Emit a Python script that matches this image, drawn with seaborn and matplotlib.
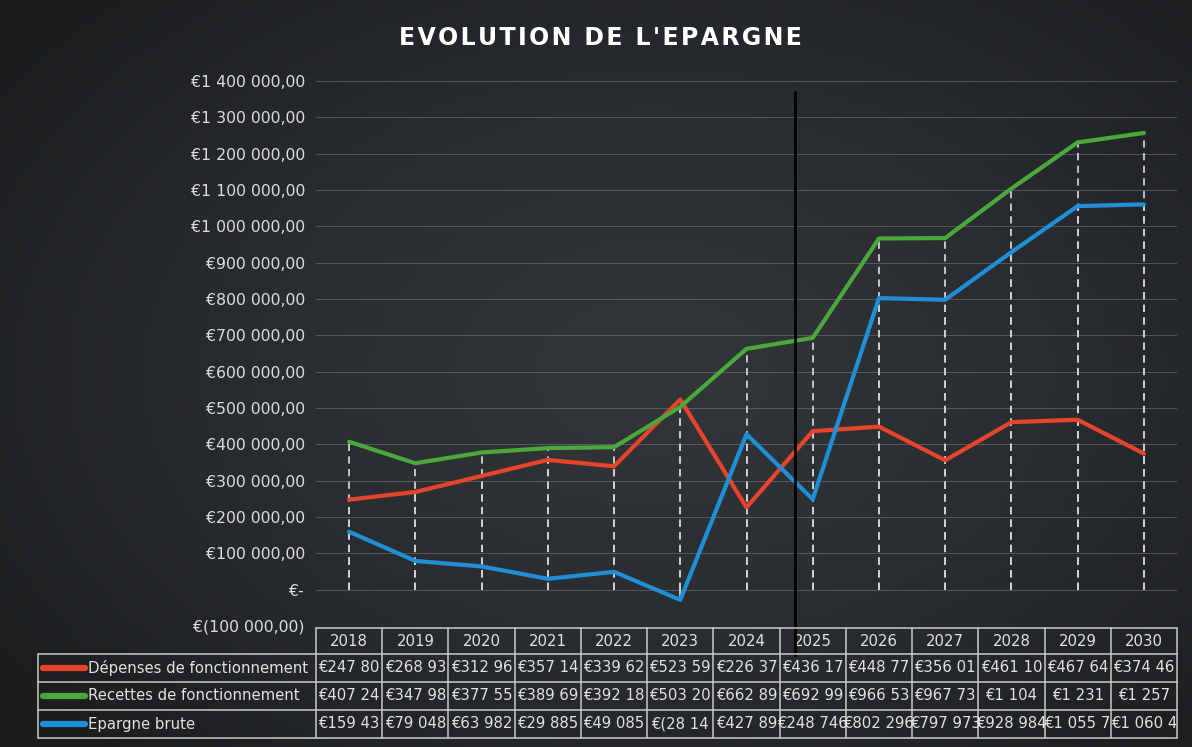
import numpy as np
import pandas as pd
import matplotlib.pyplot as plt
import seaborn as sns
import matplotlib.ticker as ticker
from matplotlib.transforms import blended_transform_factory
from matplotlib.lines import Line2D
from matplotlib.colors import LinearSegmentedColormap

# données
annees = [2018, 2019, 2020, 2021, 2022, 2023, 2024, 2025, 2026, 2027, 2028, 2029, 2030]
depenses = [247800, 268930, 312960, 357140, 339620, 523590, 226370, 436170, 448770, 356010, 461100, 467640, 374460]
recettes = [407240, 347980, 377550, 389690, 392180, 503200, 662890, 692990, 966530, 967730, 1104000, 1231000, 1257000]
epargne = [159430, 79048, 63982, 29885, 49085, -28140, 427890, 248746, 802296, 797973, 928984, 1055700, 1060400]

series = ["Dépenses de fonctionnement", "Recettes de fonctionnement", "Epargne brute"]
couleurs = ["#e8432d", "#4aa83c", "#1e8fd8"]

# textes du tableau (tronqués comme dans Excel)
dep_txt = ["€247 80", "€268 93", "€312 96", "€357 14", "€339 62", "€523 59", "€226 37",
           "€436 17", "€448 77", "€356 01", "€461 10", "€467 64", "€374 46"]
rec_txt = ["€407 24", "€347 98", "€377 55", "€389 69", "€392 18", "€503 20", "€662 89",
           "€692 99", "€966 53", "€967 73", "€1 104", "€1 231", "€1 257"]
epa_txt = ["€159 43", "€79 048", "€63 982", "€29 885", "€49 085", "€(28 14", "€427 89",
           "€248 746", "€802 296", "€797 973", "€928 984", "€1 055 7", "€1 060 4"]

df = pd.DataFrame({
    "Annee": annees * 3,
    "Valeur": depenses + recettes + epargne,
    "Serie": [s for s in series for _ in annees],
})

bg = "#26292c"
sns.set_style("dark", {"axes.facecolor": "none", "figure.facecolor": bg})
plt.rcParams['font.family'] = ['DejaVu Sans']

W, H = 1192, 747
fig = plt.figure(figsize=(W / 100, H / 100), dpi=100)

# fond sombre avec léger vignettage
bg_ax = fig.add_axes([0, 0, 1, 1], zorder=-10)
yy, xx = np.mgrid[0:1:200j, 0:1:300j]
d = np.sqrt(((xx - 0.55) / 0.75) ** 2 + ((yy - 0.5) / 0.8) ** 2)
cmap = LinearSegmentedColormap.from_list("fond", ["#33373a", "#2a2d30", "#1b1d1f"])
bg_ax.imshow(d, cmap=cmap, vmin=0, vmax=0.9, aspect="auto", extent=[0, 1, 0, 1])
bg_ax.set_axis_off()

ax = fig.add_axes([316 / W, 1 - 626 / H, (1177 - 316) / W, (626 - 81) / H])

# lignes de projection
for vals in [depenses, recettes, epargne]:
    ax.vlines(annees, 0, vals, colors="#d0d0d0", linestyles=(0, (4, 3)), lw=1.3, zorder=1)

sns.lineplot(data=df, x="Annee", y="Valeur", hue="Serie", palette=couleurs,
             lw=3.0, legend=False, ax=ax, zorder=3)

ax.set_xlim(2017.5, 2030.5)
ax.set_ylim(-100000, 1400000)
ax.set_yticks(np.arange(-100000, 1400001, 100000))
ax.set_xticks([])
ax.set_xlabel("")
ax.set_ylabel("")


def fmt(v, _):
    if abs(v) < 1:
        return "€-"
    s = f"{abs(v):,.2f}".replace(",", " ").replace(".", ",")
    return f"€({s})" if v < 0 else f"€{s}"


ax.yaxis.set_major_formatter(ticker.FuncFormatter(fmt))
ax.tick_params(axis="y", colors="#dcdcdc", labelsize=11.3, length=0, pad=8)
ax.grid(axis="y", color="#8a8e92", lw=0.7, alpha=0.45)
ax.grid(axis="x", visible=False)
for sp in ax.spines.values():
    sp.set_visible(False)

# trait vertical noir (séparateur réalisé / prévisionnel)
ax.plot([2024.73, 2024.73], [1370000, -180000], color="black", lw=2, clip_on=False, zorder=5)

titre = "\u200a".join("EVOLUTION DE L'EPARGNE")
fig.text(0.504, 1 - 38 / H, titre, color="white", fontsize=17,
         fontweight="bold", ha="center", va="center")

# tableau de données
fy = lambda px: 1 - px / H
fx = lambda px: px / W
tr = blended_transform_factory(ax.transData, fig.transFigure)
lc, lw = "#c9c9c9", 1.1
rows = [628, 654, 682, 710, 738]
x_left = 38

fig.add_artist(Line2D([fx(316), fx(1177)], [fy(rows[0])] * 2, color=lc, lw=lw))
for r in rows[1:]:
    fig.add_artist(Line2D([fx(x_left), fx(1177)], [fy(r)] * 2, color=lc, lw=lw))
fig.add_artist(Line2D([fx(x_left)] * 2, [fy(rows[1]), fy(rows[-1])], color=lc, lw=lw))
for a in annees + [annees[-1] + 1]:
    ax.add_artist(Line2D([a - 0.5] * 2, [fy(rows[0]), fy(rows[-1])], color=lc, lw=lw,
                         transform=tr, clip_on=False))

for a in annees:
    ax.text(a, fy((rows[0] + rows[1]) / 2), str(a), transform=tr, ha="center", va="center",
            color="#e2e2e2", fontsize=10.7, clip_on=False)

textes = [dep_txt, rec_txt, epa_txt]
for i, (nom, col, txts) in enumerate(zip(series, couleurs, textes)):
    yc = fy((rows[i + 1] + rows[i + 2]) / 2)
    fig.add_artist(Line2D([fx(43), fx(85)], [yc, yc], color=col, lw=4.5, solid_capstyle="round"))
    fig.text(fx(88), yc, nom, color="#e2e2e2", fontsize=10.7, ha="left", va="center")
    for a, t in zip(annees, txts):
        ax.text(a, yc, t, transform=tr, ha="center", va="center", color="#e2e2e2",
                fontsize=10.7, clip_on=False)

fig.savefig("out.png", dpi=100, facecolor=bg)
